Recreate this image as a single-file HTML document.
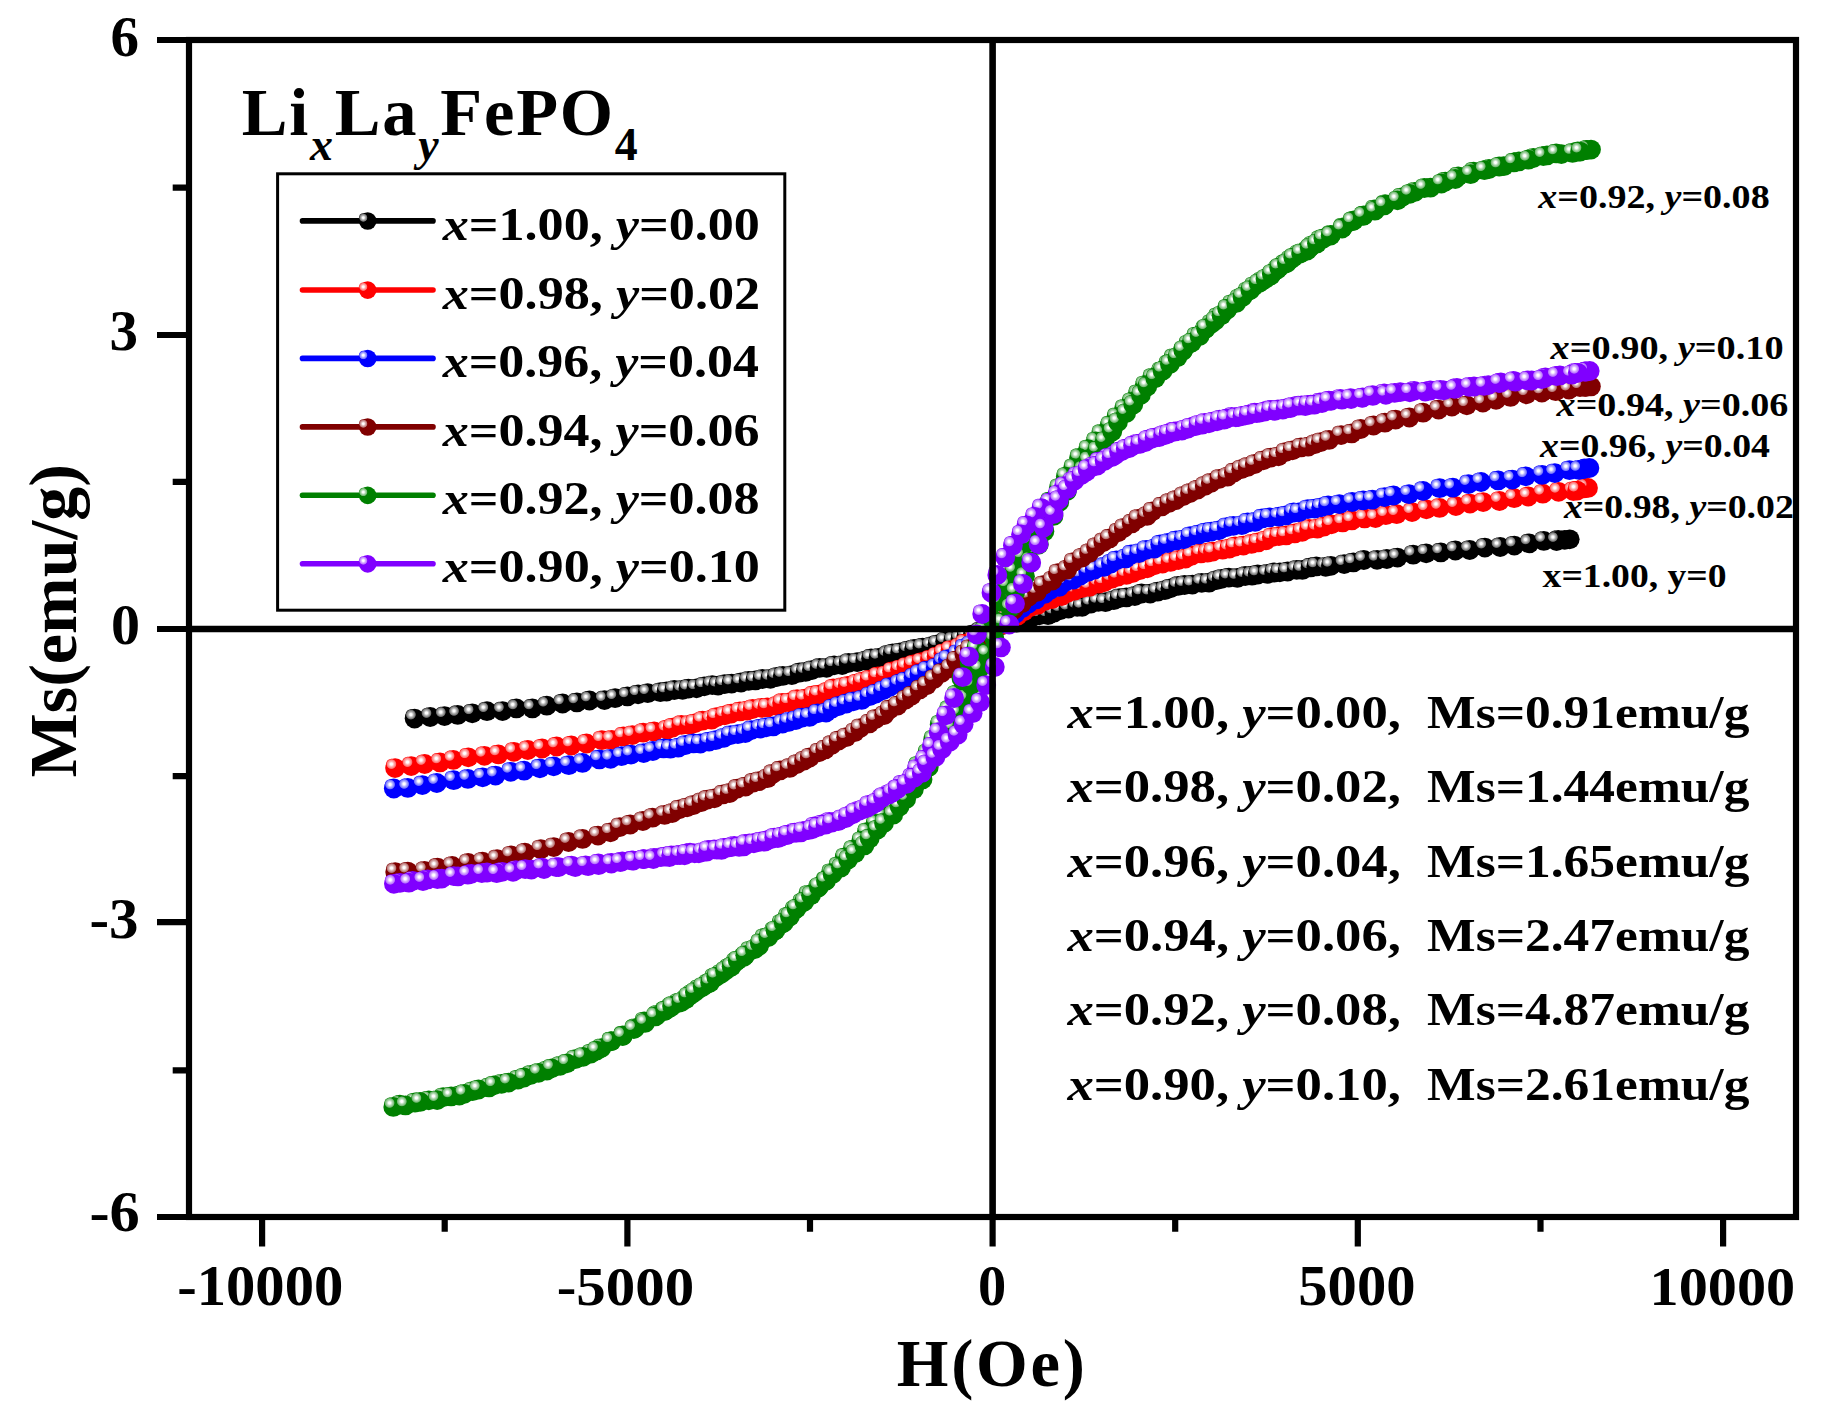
<!DOCTYPE html>
<html lang="en"><head><meta charset="utf-8"><title>M-H curves LixLayFePO4</title>
<style>html,body{margin:0;padding:0;background:#fff;overflow:hidden}svg{display:block}text{font-family:'Liberation Serif','Times New Roman',serif;font-weight:bold;fill:#000}</style></head>
<body><svg width="1821" height="1414" viewBox="0 0 1821 1414">
<defs><radialGradient id="hk"><stop offset="0" stop-color="#fff"/><stop offset="0.2" stop-color="#fff"/><stop offset="0.5" stop-color="#b2b2b2"/><stop offset="0.82" stop-color="#737373"/><stop offset="1" stop-color="#000000"/></radialGradient><g id="mk"><circle r="9.9" fill="#000000"/><circle cx="-3.7" cy="-4.0" r="5.3" fill="url(#hk)"/></g><radialGradient id="hr"><stop offset="0" stop-color="#fff"/><stop offset="0.2" stop-color="#fff"/><stop offset="0.5" stop-color="#ffb2b2"/><stop offset="0.82" stop-color="#ff7373"/><stop offset="1" stop-color="#ff0000"/></radialGradient><g id="mr"><circle r="9.9" fill="#ff0000"/><circle cx="-3.7" cy="-4.0" r="5.3" fill="url(#hr)"/></g><radialGradient id="hb"><stop offset="0" stop-color="#fff"/><stop offset="0.2" stop-color="#fff"/><stop offset="0.5" stop-color="#b2b2ff"/><stop offset="0.82" stop-color="#7373ff"/><stop offset="1" stop-color="#0000ff"/></radialGradient><g id="mb"><circle r="9.9" fill="#0000ff"/><circle cx="-3.7" cy="-4.0" r="5.3" fill="url(#hb)"/></g><radialGradient id="hw"><stop offset="0" stop-color="#fff"/><stop offset="0.2" stop-color="#fff"/><stop offset="0.5" stop-color="#d9b2b2"/><stop offset="0.82" stop-color="#b97373"/><stop offset="1" stop-color="#800000"/></radialGradient><g id="mw"><circle r="9.9" fill="#800000"/><circle cx="-3.7" cy="-4.0" r="5.3" fill="url(#hw)"/></g><radialGradient id="hg"><stop offset="0" stop-color="#fff"/><stop offset="0.2" stop-color="#fff"/><stop offset="0.5" stop-color="#b2d9b2"/><stop offset="0.82" stop-color="#73b973"/><stop offset="1" stop-color="#008000"/></radialGradient><g id="mg"><circle r="9.9" fill="#008000"/><circle cx="-3.7" cy="-4.0" r="5.3" fill="url(#hg)"/></g><radialGradient id="hp"><stop offset="0" stop-color="#fff"/><stop offset="0.2" stop-color="#fff"/><stop offset="0.5" stop-color="#d9b2ff"/><stop offset="0.82" stop-color="#b973ff"/><stop offset="1" stop-color="#8000ff"/></radialGradient><g id="mp"><circle r="9.9" fill="#8000ff"/><circle cx="-3.7" cy="-4.0" r="5.3" fill="url(#hp)"/></g></defs>
<rect width="1821" height="1414" fill="#fff"/>
<g id="legend"><rect x="277.6" y="173.8" width="507.2" height="436.4" fill="#fff" stroke="#000" stroke-width="3"/><line x1="302.5" y1="220.9" x2="433" y2="220.9" stroke="#000000" stroke-width="5.6" stroke-linecap="round"/><circle cx="367.7" cy="221.0" r="8.8" fill="#000000"/><circle cx="363.3" cy="217.7" r="4.4" fill="url(#hk)"/><line x1="302.5" y1="290.0" x2="433" y2="290.0" stroke="#ff0000" stroke-width="5.6" stroke-linecap="round"/><circle cx="367.7" cy="290.1" r="8.8" fill="#ff0000"/><circle cx="363.3" cy="286.8" r="4.4" fill="url(#hr)"/><line x1="302.5" y1="358.4" x2="433" y2="358.4" stroke="#0000ff" stroke-width="5.6" stroke-linecap="round"/><circle cx="367.7" cy="358.5" r="8.8" fill="#0000ff"/><circle cx="363.3" cy="355.2" r="4.4" fill="url(#hb)"/><line x1="302.5" y1="426.9" x2="433" y2="426.9" stroke="#800000" stroke-width="5.6" stroke-linecap="round"/><circle cx="367.7" cy="427.0" r="8.8" fill="#800000"/><circle cx="363.3" cy="423.7" r="4.4" fill="url(#hw)"/><line x1="302.5" y1="495.3" x2="433" y2="495.3" stroke="#008000" stroke-width="5.6" stroke-linecap="round"/><circle cx="367.7" cy="495.4" r="8.8" fill="#008000"/><circle cx="363.3" cy="492.1" r="4.4" fill="url(#hg)"/><line x1="302.5" y1="563.8" x2="433" y2="563.8" stroke="#8000ff" stroke-width="5.6" stroke-linecap="round"/><circle cx="367.7" cy="563.9" r="8.8" fill="#8000ff"/><circle cx="363.3" cy="560.6" r="4.4" fill="url(#hp)"/></g>
<g id="labels"><text transform="translate(110.6 55.8) scale(1.0186 1)" font-size="56.0">6</text>
<text transform="translate(109.6 350.1) scale(1.0175 1)" font-size="56.0">3</text>
<text transform="translate(111.0 644.0) scale(1.0365 1)" font-size="56.0">0</text>
<text transform="translate(89.5 938.0) scale(1.0519 1)" font-size="56.0">-3</text>
<text transform="translate(89.5 1231.2) scale(1.0778 1)" font-size="56.0">-6</text>
<text transform="translate(177.2 1304.6) scale(1.0468 1)" font-size="56.0">-10000</text>
<text transform="translate(556.7 1304.6) scale(1.0525 1)" font-size="56.0">-5000</text>
<text transform="translate(978.1 1304.6) scale(1.0070 1)" font-size="56.0">0</text>
<text transform="translate(1298.3 1304.6) scale(1.0472 1)" font-size="56.0">5000</text>
<text transform="translate(1649.5 1304.6) scale(1.0406 1)" font-size="56.0">10000</text>
<text transform="translate(896.7 1386.0) scale(0.9700 1)" font-size="68.5" letter-spacing="2.87">H(Oe)</text>
<text transform="translate(76.0 776.2) rotate(-90) translate(-1.2 0) scale(0.9926 1)" font-size="68.5">Ms(emu/g)</text>
<text transform="translate(241.7 135.4) scale(1.0000 1)" font-size="68.5" letter-spacing="1.78">Li<tspan font-style="italic" font-size="45.9" dy="24.3">x</tspan><tspan dy="-24.3">La</tspan><tspan font-style="italic" font-size="45.9" dy="24.3">y</tspan><tspan dy="-24.3">FePO</tspan><tspan font-size="45.9" dy="24.8">4</tspan></text>
<text transform="translate(442.7 239.5) scale(1.1191 1)" font-size="46.6"><tspan font-style="italic">x</tspan>=1.00, <tspan font-style="italic">y</tspan>=0.00</text>
<text transform="translate(442.7 308.6) scale(1.1200 1)" font-size="46.6"><tspan font-style="italic">x</tspan>=0.98, <tspan font-style="italic">y</tspan>=0.02</text>
<text transform="translate(442.7 377.0) scale(1.1155 1)" font-size="46.6"><tspan font-style="italic">x</tspan>=0.96, <tspan font-style="italic">y</tspan>=0.04</text>
<text transform="translate(442.7 445.5) scale(1.1175 1)" font-size="46.6"><tspan font-style="italic">x</tspan>=0.94, <tspan font-style="italic">y</tspan>=0.06</text>
<text transform="translate(442.7 513.9) scale(1.1182 1)" font-size="46.6"><tspan font-style="italic">x</tspan>=0.92, <tspan font-style="italic">y</tspan>=0.08</text>
<text transform="translate(442.7 582.4) scale(1.1191 1)" font-size="46.6"><tspan font-style="italic">x</tspan>=0.90, <tspan font-style="italic">y</tspan>=0.10</text>
<text transform="translate(1538.2 207.8) scale(1.1192 1)" font-size="34.0"><tspan font-style="italic">x</tspan>=0.92, <tspan font-style="italic">y</tspan>=0.08</text>
<text transform="translate(1550.5 359.1) scale(1.1274 1)" font-size="34.0"><tspan font-style="italic">x</tspan>=0.90, <tspan font-style="italic">y</tspan>=0.10</text>
<text transform="translate(1556.6 416.4) scale(1.1204 1)" font-size="34.0"><tspan font-style="italic">x</tspan>=0.94, <tspan font-style="italic">y</tspan>=0.06</text>
<text transform="translate(1540.0 457.2) scale(1.1122 1)" font-size="34.0"><tspan font-style="italic">x</tspan>=0.96, <tspan font-style="italic">y</tspan>=0.04</text>
<text transform="translate(1563.9 517.9) scale(1.1123 1)" font-size="34.0"><tspan font-style="italic">x</tspan>=0.98, <tspan font-style="italic">y</tspan>=0.02</text>
<text transform="translate(1542.6 587.4) scale(1.1073 1)" font-size="34.0">x=1.00, y=0</text>
<text transform="translate(1067.4 728.3) scale(1.1302 1)" font-size="46.6"><tspan font-style="italic">x</tspan>=1.00, <tspan font-style="italic">y</tspan>=0.00,</text>
<text transform="translate(1427.1 728.3) scale(1.1045 1)" font-size="46.6">Ms=0.91emu/g</text>
<text transform="translate(1067.4 802.4) scale(1.1302 1)" font-size="46.6"><tspan font-style="italic">x</tspan>=0.98, <tspan font-style="italic">y</tspan>=0.02,</text>
<text transform="translate(1427.1 802.4) scale(1.1045 1)" font-size="46.6">Ms=1.44emu/g</text>
<text transform="translate(1067.4 876.7) scale(1.1302 1)" font-size="46.6"><tspan font-style="italic">x</tspan>=0.96, <tspan font-style="italic">y</tspan>=0.04,</text>
<text transform="translate(1427.1 876.7) scale(1.1045 1)" font-size="46.6">Ms=1.65emu/g</text>
<text transform="translate(1067.4 951.0) scale(1.1302 1)" font-size="46.6"><tspan font-style="italic">x</tspan>=0.94, <tspan font-style="italic">y</tspan>=0.06,</text>
<text transform="translate(1427.1 951.0) scale(1.1045 1)" font-size="46.6">Ms=2.47emu/g</text>
<text transform="translate(1067.4 1025.3) scale(1.1302 1)" font-size="46.6"><tspan font-style="italic">x</tspan>=0.92, <tspan font-style="italic">y</tspan>=0.08,</text>
<text transform="translate(1427.1 1025.3) scale(1.1045 1)" font-size="46.6">Ms=4.87emu/g</text>
<text transform="translate(1067.4 1099.6) scale(1.1302 1)" font-size="46.6"><tspan font-style="italic">x</tspan>=0.90, <tspan font-style="italic">y</tspan>=0.10,</text>
<text transform="translate(1427.1 1099.6) scale(1.1045 1)" font-size="46.6">Ms=2.61emu/g</text></g>
<g id="data"><g><circle cx="1569.7" cy="539.3" r="9.9" fill="#000000"/><circle cx="1564.7" cy="539.8" r="9.9" fill="#000000"/><use href="#mk" x="414.6" y="718.6"/><use href="#mk" x="430.2" y="717.0"/><use href="#mk" x="444.5" y="716.1"/><use href="#mk" x="457.7" y="714.9"/><use href="#mk" x="472.3" y="713.3"/><use href="#mk" x="487.0" y="711.2"/><use href="#mk" x="502.6" y="711.1"/><use href="#mk" x="516.4" y="708.4"/><use href="#mk" x="532.4" y="708.4"/><use href="#mk" x="546.8" y="705.7"/><use href="#mk" x="562.6" y="703.5"/><use href="#mk" x="576.9" y="702.4"/><use href="#mk" x="589.5" y="700.5"/><use href="#mk" x="604.5" y="700.1"/><use href="#mk" x="615.1" y="698.2"/><use href="#mk" x="627.4" y="696.4"/><use href="#mk" x="638.1" y="694.3"/><use href="#mk" x="647.7" y="693.2"/><use href="#mk" x="660.4" y="692.2"/><use href="#mk" x="666.6" y="691.5"/><use href="#mk" x="674.3" y="690.0"/><use href="#mk" x="682.6" y="689.8"/><use href="#mk" x="688.4" y="688.6"/><use href="#mk" x="696.5" y="688.3"/><use href="#mk" x="704.3" y="686.3"/><use href="#mk" x="712.3" y="685.1"/><use href="#mk" x="718.1" y="685.6"/><use href="#mk" x="724.6" y="684.2"/><use href="#mk" x="731.6" y="683.6"/><use href="#mk" x="741.0" y="682.5"/><use href="#mk" x="748.6" y="680.9"/><use href="#mk" x="755.4" y="680.4"/><use href="#mk" x="762.4" y="679.0"/><use href="#mk" x="770.4" y="678.8"/><use href="#mk" x="776.7" y="677.0"/><use href="#mk" x="782.8" y="675.9"/><use href="#mk" x="791.8" y="675.2"/><use href="#mk" x="799.6" y="672.5"/><use href="#mk" x="805.6" y="671.9"/><use href="#mk" x="811.9" y="670.1"/><use href="#mk" x="819.6" y="667.9"/><use href="#mk" x="826.6" y="667.8"/><use href="#mk" x="834.1" y="665.3"/><use href="#mk" x="842.2" y="665.1"/><use href="#mk" x="848.6" y="662.8"/><use href="#mk" x="857.2" y="662.2"/><use href="#mk" x="865.3" y="660.7"/><use href="#mk" x="871.1" y="658.4"/><use href="#mk" x="878.6" y="657.8"/><use href="#mk" x="887.6" y="654.9"/><use href="#mk" x="892.7" y="653.5"/><use href="#mk" x="900.2" y="652.4"/><use href="#mk" x="908.5" y="650.3"/><use href="#mk" x="914.1" y="649.0"/><use href="#mk" x="922.5" y="647.6"/><use href="#mk" x="931.4" y="646.2"/><use href="#mk" x="937.5" y="644.3"/><use href="#mk" x="945.2" y="641.3"/><use href="#mk" x="953.2" y="640.9"/><use href="#mk" x="960.4" y="638.9"/><use href="#mk" x="966.4" y="636.1"/><use href="#mk" x="972.9" y="634.5"/><use href="#mk" x="980.1" y="631.3"/><use href="#mk" x="987.8" y="629.4"/><use href="#mk" x="995.4" y="627.2"/><use href="#mk" x="1001.8" y="625.3"/><use href="#mk" x="1009.4" y="623.7"/><use href="#mk" x="1016.5" y="622.7"/><use href="#mk" x="1025.4" y="619.2"/><use href="#mk" x="1031.7" y="617.6"/><use href="#mk" x="1039.3" y="615.3"/><use href="#mk" x="1048.0" y="615.2"/><use href="#mk" x="1054.2" y="612.5"/><use href="#mk" x="1060.5" y="610.0"/><use href="#mk" x="1068.5" y="608.6"/><use href="#mk" x="1077.2" y="606.8"/><use href="#mk" x="1082.2" y="606.8"/><use href="#mk" x="1090.9" y="603.6"/><use href="#mk" x="1098.3" y="601.8"/><use href="#mk" x="1105.5" y="602.2"/><use href="#mk" x="1113.8" y="600.2"/><use href="#mk" x="1119.4" y="598.1"/><use href="#mk" x="1126.4" y="597.4"/><use href="#mk" x="1134.8" y="596.0"/><use href="#mk" x="1141.5" y="593.5"/><use href="#mk" x="1150.2" y="593.6"/><use href="#mk" x="1157.6" y="591.7"/><use href="#mk" x="1164.8" y="590.2"/><use href="#mk" x="1170.4" y="588.3"/><use href="#mk" x="1178.1" y="585.9"/><use href="#mk" x="1184.5" y="585.0"/><use href="#mk" x="1192.4" y="584.6"/><use href="#mk" x="1201.7" y="582.8"/><use href="#mk" x="1209.0" y="582.7"/><use href="#mk" x="1216.3" y="580.2"/><use href="#mk" x="1221.6" y="578.8"/><use href="#mk" x="1228.8" y="577.6"/><use href="#mk" x="1237.3" y="577.9"/><use href="#mk" x="1245.2" y="576.0"/><use href="#mk" x="1252.0" y="575.7"/><use href="#mk" x="1257.7" y="574.5"/><use href="#mk" x="1267.3" y="573.9"/><use href="#mk" x="1274.2" y="572.5"/><use href="#mk" x="1279.9" y="572.3"/><use href="#mk" x="1287.6" y="571.5"/><use href="#mk" x="1296.7" y="569.8"/><use href="#mk" x="1302.4" y="569.9"/><use href="#mk" x="1310.6" y="567.4"/><use href="#mk" x="1316.3" y="566.4"/><use href="#mk" x="1325.7" y="566.8"/><use href="#mk" x="1330.9" y="565.8"/><use href="#mk" x="1344.2" y="564.1"/><use href="#mk" x="1353.4" y="562.4"/><use href="#mk" x="1363.8" y="560.0"/><use href="#mk" x="1377.1" y="559.8"/><use href="#mk" x="1386.8" y="559.0"/><use href="#mk" x="1397.5" y="557.6"/><use href="#mk" x="1413.2" y="554.7"/><use href="#mk" x="1426.2" y="553.3"/><use href="#mk" x="1440.8" y="552.4"/><use href="#mk" x="1455.4" y="550.5"/><use href="#mk" x="1469.7" y="550.0"/><use href="#mk" x="1484.9" y="547.6"/><use href="#mk" x="1500.2" y="547.0"/><use href="#mk" x="1514.3" y="545.6"/><use href="#mk" x="1529.2" y="543.4"/><use href="#mk" x="1543.8" y="540.9"/><use href="#mk" x="1558.2" y="539.8"/><use href="#mk" x="1556.6" y="541.0"/></g>
<g><circle cx="1588.0" cy="487.9" r="9.9" fill="#ff0000"/><circle cx="1583.0" cy="488.4" r="9.9" fill="#ff0000"/><use href="#mr" x="395.1" y="768.1"/><use href="#mr" x="411.2" y="766.1"/><use href="#mr" x="424.7" y="764.0"/><use href="#mr" x="440.0" y="762.4"/><use href="#mr" x="453.3" y="759.9"/><use href="#mr" x="468.3" y="757.3"/><use href="#mr" x="484.4" y="755.8"/><use href="#mr" x="498.4" y="754.4"/><use href="#mr" x="514.0" y="751.8"/><use href="#mr" x="527.8" y="750.0"/><use href="#mr" x="542.1" y="748.5"/><use href="#mr" x="556.6" y="746.5"/><use href="#mr" x="571.3" y="745.5"/><use href="#mr" x="586.5" y="743.5"/><use href="#mr" x="601.8" y="740.2"/><use href="#mr" x="611.7" y="739.9"/><use href="#mr" x="623.4" y="736.4"/><use href="#mr" x="632.4" y="735.1"/><use href="#mr" x="643.2" y="732.7"/><use href="#mr" x="654.1" y="731.4"/><use href="#mr" x="667.1" y="729.6"/><use href="#mr" x="672.6" y="727.6"/><use href="#mr" x="681.3" y="724.9"/><use href="#mr" x="689.3" y="724.9"/><use href="#mr" x="694.7" y="723.3"/><use href="#mr" x="702.5" y="720.7"/><use href="#mr" x="711.5" y="719.7"/><use href="#mr" x="716.5" y="717.2"/><use href="#mr" x="724.8" y="715.3"/><use href="#mr" x="731.2" y="713.6"/><use href="#mr" x="740.0" y="711.4"/><use href="#mr" x="746.8" y="710.7"/><use href="#mr" x="752.6" y="709.0"/><use href="#mr" x="761.6" y="707.9"/><use href="#mr" x="767.3" y="707.4"/><use href="#mr" x="776.7" y="705.9"/><use href="#mr" x="782.1" y="702.9"/><use href="#mr" x="789.2" y="702.3"/><use href="#mr" x="797.1" y="699.1"/><use href="#mr" x="804.9" y="698.7"/><use href="#mr" x="813.3" y="695.4"/><use href="#mr" x="818.7" y="694.6"/><use href="#mr" x="827.2" y="691.9"/><use href="#mr" x="833.2" y="688.5"/><use href="#mr" x="842.1" y="687.1"/><use href="#mr" x="847.7" y="686.0"/><use href="#mr" x="856.6" y="683.6"/><use href="#mr" x="862.4" y="681.7"/><use href="#mr" x="869.6" y="679.6"/><use href="#mr" x="878.0" y="676.4"/><use href="#mr" x="885.6" y="675.3"/><use href="#mr" x="892.1" y="671.5"/><use href="#mr" x="900.1" y="669.3"/><use href="#mr" x="906.3" y="666.8"/><use href="#mr" x="913.4" y="664.5"/><use href="#mr" x="921.4" y="662.2"/><use href="#mr" x="930.0" y="659.6"/><use href="#mr" x="936.6" y="656.6"/><use href="#mr" x="943.4" y="653.3"/><use href="#mr" x="950.5" y="650.1"/><use href="#mr" x="959.1" y="647.6"/><use href="#mr" x="964.9" y="643.6"/><use href="#mr" x="974.3" y="638.9"/><use href="#mr" x="981.3" y="635.5"/><use href="#mr" x="987.7" y="632.3"/><use href="#mr" x="994.7" y="627.7"/><use href="#mr" x="1002.8" y="624.7"/><use href="#mr" x="1009.2" y="620.3"/><use href="#mr" x="1017.5" y="615.8"/><use href="#mr" x="1024.0" y="611.3"/><use href="#mr" x="1030.3" y="607.1"/><use href="#mr" x="1037.6" y="604.9"/><use href="#mr" x="1045.5" y="600.6"/><use href="#mr" x="1052.3" y="599.1"/><use href="#mr" x="1061.8" y="596.1"/><use href="#mr" x="1067.5" y="592.7"/><use href="#mr" x="1074.8" y="590.6"/><use href="#mr" x="1081.7" y="588.2"/><use href="#mr" x="1089.3" y="586.9"/><use href="#mr" x="1098.6" y="583.7"/><use href="#mr" x="1103.9" y="582.3"/><use href="#mr" x="1111.4" y="578.9"/><use href="#mr" x="1117.8" y="576.7"/><use href="#mr" x="1126.4" y="574.9"/><use href="#mr" x="1133.0" y="572.8"/><use href="#mr" x="1139.7" y="570.2"/><use href="#mr" x="1147.3" y="568.3"/><use href="#mr" x="1154.4" y="565.3"/><use href="#mr" x="1162.5" y="563.5"/><use href="#mr" x="1170.6" y="561.9"/><use href="#mr" x="1178.3" y="560.0"/><use href="#mr" x="1185.5" y="558.5"/><use href="#mr" x="1191.9" y="555.5"/><use href="#mr" x="1200.9" y="553.4"/><use href="#mr" x="1207.5" y="552.7"/><use href="#mr" x="1212.9" y="551.6"/><use href="#mr" x="1222.6" y="549.7"/><use href="#mr" x="1229.4" y="548.6"/><use href="#mr" x="1235.1" y="546.5"/><use href="#mr" x="1243.4" y="545.6"/><use href="#mr" x="1251.5" y="543.9"/><use href="#mr" x="1258.2" y="542.4"/><use href="#mr" x="1265.8" y="540.3"/><use href="#mr" x="1271.8" y="537.2"/><use href="#mr" x="1278.9" y="536.2"/><use href="#mr" x="1286.1" y="535.4"/><use href="#mr" x="1294.7" y="533.4"/><use href="#mr" x="1302.2" y="531.8"/><use href="#mr" x="1309.1" y="528.9"/><use href="#mr" x="1317.3" y="528.7"/><use href="#mr" x="1323.7" y="526.7"/><use href="#mr" x="1331.5" y="524.3"/><use href="#mr" x="1342.7" y="522.4"/><use href="#mr" x="1351.8" y="520.4"/><use href="#mr" x="1364.6" y="518.4"/><use href="#mr" x="1375.5" y="518.1"/><use href="#mr" x="1385.8" y="515.2"/><use href="#mr" x="1396.7" y="514.2"/><use href="#mr" x="1412.1" y="512.1"/><use href="#mr" x="1426.4" y="509.3"/><use href="#mr" x="1439.6" y="507.9"/><use href="#mr" x="1455.9" y="506.1"/><use href="#mr" x="1470.0" y="503.6"/><use href="#mr" x="1483.2" y="502.1"/><use href="#mr" x="1499.5" y="501.0"/><use href="#mr" x="1514.2" y="498.2"/><use href="#mr" x="1528.3" y="496.5"/><use href="#mr" x="1542.8" y="493.7"/><use href="#mr" x="1558.6" y="491.8"/><use href="#mr" x="1573.4" y="491.1"/><use href="#mr" x="1585.4" y="488.0"/><use href="#mr" x="1577.2" y="490.6"/></g>
<g><circle cx="1589.4" cy="468.0" r="9.9" fill="#0000ff"/><circle cx="1584.4" cy="468.5" r="9.9" fill="#0000ff"/><use href="#mb" x="393.8" y="788.5"/><use href="#mb" x="407.8" y="787.9"/><use href="#mb" x="422.4" y="785.1"/><use href="#mb" x="436.8" y="783.0"/><use href="#mb" x="453.7" y="780.2"/><use href="#mb" x="467.9" y="778.9"/><use href="#mb" x="482.7" y="777.3"/><use href="#mb" x="495.5" y="775.6"/><use href="#mb" x="510.8" y="771.8"/><use href="#mb" x="524.1" y="770.7"/><use href="#mb" x="539.9" y="768.3"/><use href="#mb" x="553.7" y="766.3"/><use href="#mb" x="568.8" y="765.2"/><use href="#mb" x="582.5" y="762.9"/><use href="#mb" x="599.4" y="759.4"/><use href="#mb" x="610.6" y="758.8"/><use href="#mb" x="621.5" y="756.2"/><use href="#mb" x="631.0" y="754.6"/><use href="#mb" x="643.7" y="753.1"/><use href="#mb" x="652.9" y="751.0"/><use href="#mb" x="663.6" y="748.4"/><use href="#mb" x="670.4" y="748.7"/><use href="#mb" x="678.2" y="747.7"/><use href="#mb" x="685.5" y="745.0"/><use href="#mb" x="693.5" y="743.4"/><use href="#mb" x="700.4" y="743.5"/><use href="#mb" x="709.1" y="741.6"/><use href="#mb" x="715.7" y="740.2"/><use href="#mb" x="723.9" y="737.8"/><use href="#mb" x="730.6" y="735.1"/><use href="#mb" x="737.9" y="734.2"/><use href="#mb" x="745.3" y="733.0"/><use href="#mb" x="751.3" y="730.1"/><use href="#mb" x="760.4" y="728.6"/><use href="#mb" x="766.4" y="727.3"/><use href="#mb" x="773.2" y="726.4"/><use href="#mb" x="782.5" y="723.6"/><use href="#mb" x="788.9" y="721.8"/><use href="#mb" x="795.9" y="720.1"/><use href="#mb" x="802.1" y="717.6"/><use href="#mb" x="809.5" y="716.9"/><use href="#mb" x="817.6" y="713.3"/><use href="#mb" x="826.1" y="712.6"/><use href="#mb" x="832.1" y="708.5"/><use href="#mb" x="838.7" y="706.0"/><use href="#mb" x="846.4" y="703.5"/><use href="#mb" x="853.4" y="701.3"/><use href="#mb" x="861.7" y="699.9"/><use href="#mb" x="869.5" y="696.2"/><use href="#mb" x="875.8" y="693.6"/><use href="#mb" x="883.0" y="690.3"/><use href="#mb" x="889.5" y="687.1"/><use href="#mb" x="899.3" y="683.7"/><use href="#mb" x="905.3" y="681.4"/><use href="#mb" x="913.6" y="677.3"/><use href="#mb" x="919.3" y="673.9"/><use href="#mb" x="926.9" y="670.6"/><use href="#mb" x="935.8" y="667.7"/><use href="#mb" x="942.9" y="662.0"/><use href="#mb" x="947.8" y="659.2"/><use href="#mb" x="957.5" y="654.1"/><use href="#mb" x="964.0" y="648.2"/><use href="#mb" x="970.7" y="645.0"/><use href="#mb" x="979.3" y="639.7"/><use href="#mb" x="987.0" y="633.3"/><use href="#mb" x="991.9" y="628.1"/><use href="#mb" x="1000.3" y="624.0"/><use href="#mb" x="1008.8" y="618.9"/><use href="#mb" x="1015.3" y="613.8"/><use href="#mb" x="1022.1" y="608.2"/><use href="#mb" x="1028.2" y="603.7"/><use href="#mb" x="1036.0" y="599.4"/><use href="#mb" x="1044.5" y="593.9"/><use href="#mb" x="1050.4" y="589.8"/><use href="#mb" x="1059.1" y="586.9"/><use href="#mb" x="1064.9" y="582.1"/><use href="#mb" x="1073.4" y="579.6"/><use href="#mb" x="1080.3" y="575.5"/><use href="#mb" x="1088.2" y="571.8"/><use href="#mb" x="1094.7" y="569.6"/><use href="#mb" x="1103.8" y="566.9"/><use href="#mb" x="1110.9" y="563.6"/><use href="#mb" x="1116.4" y="560.3"/><use href="#mb" x="1125.7" y="558.4"/><use href="#mb" x="1131.2" y="554.4"/><use href="#mb" x="1139.1" y="553.1"/><use href="#mb" x="1146.1" y="549.8"/><use href="#mb" x="1154.1" y="548.7"/><use href="#mb" x="1160.2" y="544.5"/><use href="#mb" x="1167.8" y="543.0"/><use href="#mb" x="1176.1" y="540.4"/><use href="#mb" x="1183.7" y="539.3"/><use href="#mb" x="1190.2" y="536.2"/><use href="#mb" x="1198.8" y="534.4"/><use href="#mb" x="1205.7" y="532.4"/><use href="#mb" x="1211.3" y="531.6"/><use href="#mb" x="1218.8" y="530.3"/><use href="#mb" x="1226.7" y="527.1"/><use href="#mb" x="1233.3" y="525.8"/><use href="#mb" x="1241.8" y="525.2"/><use href="#mb" x="1247.7" y="522.4"/><use href="#mb" x="1255.1" y="521.9"/><use href="#mb" x="1262.2" y="518.4"/><use href="#mb" x="1269.3" y="517.4"/><use href="#mb" x="1279.0" y="516.7"/><use href="#mb" x="1285.8" y="515.4"/><use href="#mb" x="1293.7" y="512.5"/><use href="#mb" x="1298.9" y="512.3"/><use href="#mb" x="1307.8" y="509.2"/><use href="#mb" x="1314.8" y="508.6"/><use href="#mb" x="1321.3" y="507.3"/><use href="#mb" x="1328.1" y="505.4"/><use href="#mb" x="1339.3" y="504.2"/><use href="#mb" x="1352.2" y="502.0"/><use href="#mb" x="1363.2" y="500.3"/><use href="#mb" x="1372.4" y="499.7"/><use href="#mb" x="1384.7" y="497.1"/><use href="#mb" x="1393.5" y="495.5"/><use href="#mb" x="1409.0" y="494.2"/><use href="#mb" x="1423.1" y="490.9"/><use href="#mb" x="1439.7" y="488.2"/><use href="#mb" x="1452.9" y="487.7"/><use href="#mb" x="1468.5" y="484.1"/><use href="#mb" x="1481.1" y="482.0"/><use href="#mb" x="1498.2" y="480.4"/><use href="#mb" x="1512.3" y="479.6"/><use href="#mb" x="1525.8" y="476.3"/><use href="#mb" x="1542.1" y="474.9"/><use href="#mb" x="1554.8" y="473.1"/><use href="#mb" x="1569.5" y="470.2"/><use href="#mb" x="1583.3" y="469.2"/><use href="#mb" x="1578.9" y="469.9"/></g>
<g><circle cx="1590.9" cy="386.4" r="9.9" fill="#800000"/><circle cx="1585.9" cy="386.9" r="9.9" fill="#800000"/><use href="#mw" x="395.2" y="872.1"/><use href="#mw" x="407.8" y="871.6"/><use href="#mw" x="424.5" y="870.9"/><use href="#mw" x="437.5" y="867.6"/><use href="#mw" x="452.2" y="866.0"/><use href="#mw" x="468.2" y="863.0"/><use href="#mw" x="482.5" y="861.7"/><use href="#mw" x="497.1" y="859.1"/><use href="#mw" x="511.1" y="855.5"/><use href="#mw" x="524.9" y="852.7"/><use href="#mw" x="540.8" y="849.2"/><use href="#mw" x="553.8" y="847.1"/><use href="#mw" x="568.6" y="842.0"/><use href="#mw" x="582.6" y="838.9"/><use href="#mw" x="598.0" y="835.6"/><use href="#mw" x="610.5" y="832.3"/><use href="#mw" x="619.8" y="827.1"/><use href="#mw" x="630.2" y="824.5"/><use href="#mw" x="642.9" y="821.0"/><use href="#mw" x="652.5" y="817.7"/><use href="#mw" x="664.6" y="814.9"/><use href="#mw" x="672.2" y="813.0"/><use href="#mw" x="679.3" y="809.3"/><use href="#mw" x="687.1" y="807.3"/><use href="#mw" x="693.6" y="805.0"/><use href="#mw" x="701.4" y="802.1"/><use href="#mw" x="707.4" y="799.6"/><use href="#mw" x="714.4" y="798.3"/><use href="#mw" x="722.9" y="794.4"/><use href="#mw" x="729.7" y="793.0"/><use href="#mw" x="737.3" y="788.6"/><use href="#mw" x="745.5" y="786.6"/><use href="#mw" x="753.3" y="782.6"/><use href="#mw" x="759.1" y="781.1"/><use href="#mw" x="767.5" y="778.2"/><use href="#mw" x="772.5" y="773.9"/><use href="#mw" x="780.1" y="770.4"/><use href="#mw" x="789.7" y="767.9"/><use href="#mw" x="796.9" y="764.0"/><use href="#mw" x="804.1" y="760.6"/><use href="#mw" x="809.7" y="757.5"/><use href="#mw" x="818.9" y="752.3"/><use href="#mw" x="825.2" y="749.4"/><use href="#mw" x="831.5" y="744.9"/><use href="#mw" x="838.6" y="740.5"/><use href="#mw" x="846.2" y="737.2"/><use href="#mw" x="854.6" y="732.2"/><use href="#mw" x="860.1" y="728.1"/><use href="#mw" x="869.3" y="723.4"/><use href="#mw" x="875.6" y="719.0"/><use href="#mw" x="884.2" y="715.1"/><use href="#mw" x="889.5" y="709.4"/><use href="#mw" x="897.7" y="705.5"/><use href="#mw" x="905.7" y="699.5"/><use href="#mw" x="911.7" y="695.6"/><use href="#mw" x="919.7" y="689.4"/><use href="#mw" x="926.7" y="685.3"/><use href="#mw" x="934.0" y="679.0"/><use href="#mw" x="941.4" y="673.0"/><use href="#mw" x="950.2" y="668.3"/><use href="#mw" x="956.1" y="660.5"/><use href="#mw" x="964.4" y="654.1"/><use href="#mw" x="969.7" y="649.0"/><use href="#mw" x="978.1" y="642.2"/><use href="#mw" x="985.4" y="635.8"/><use href="#mw" x="992.9" y="628.0"/><use href="#mw" x="998.9" y="622.4"/><use href="#mw" x="1008.0" y="616.8"/><use href="#mw" x="1013.7" y="609.8"/><use href="#mw" x="1021.8" y="603.3"/><use href="#mw" x="1028.5" y="596.7"/><use href="#mw" x="1036.9" y="591.9"/><use href="#mw" x="1043.0" y="585.2"/><use href="#mw" x="1052.3" y="580.5"/><use href="#mw" x="1057.9" y="573.2"/><use href="#mw" x="1067.3" y="569.5"/><use href="#mw" x="1073.3" y="562.2"/><use href="#mw" x="1081.8" y="557.7"/><use href="#mw" x="1089.1" y="553.0"/><use href="#mw" x="1096.1" y="547.0"/><use href="#mw" x="1103.3" y="542.1"/><use href="#mw" x="1109.6" y="538.4"/><use href="#mw" x="1118.1" y="532.3"/><use href="#mw" x="1123.7" y="528.0"/><use href="#mw" x="1131.8" y="523.4"/><use href="#mw" x="1138.0" y="518.8"/><use href="#mw" x="1147.0" y="515.9"/><use href="#mw" x="1152.4" y="511.3"/><use href="#mw" x="1161.7" y="506.4"/><use href="#mw" x="1169.2" y="502.8"/><use href="#mw" x="1175.9" y="500.0"/><use href="#mw" x="1183.3" y="496.0"/><use href="#mw" x="1190.0" y="493.0"/><use href="#mw" x="1197.3" y="489.7"/><use href="#mw" x="1204.7" y="485.9"/><use href="#mw" x="1210.8" y="482.9"/><use href="#mw" x="1219.4" y="478.8"/><use href="#mw" x="1227.5" y="476.7"/><use href="#mw" x="1233.9" y="472.4"/><use href="#mw" x="1241.3" y="469.2"/><use href="#mw" x="1247.6" y="466.9"/><use href="#mw" x="1254.8" y="464.0"/><use href="#mw" x="1263.3" y="460.3"/><use href="#mw" x="1270.9" y="457.6"/><use href="#mw" x="1278.5" y="456.3"/><use href="#mw" x="1285.2" y="452.2"/><use href="#mw" x="1292.5" y="450.3"/><use href="#mw" x="1301.0" y="447.4"/><use href="#mw" x="1308.1" y="446.7"/><use href="#mw" x="1315.0" y="444.0"/><use href="#mw" x="1320.8" y="442.1"/><use href="#mw" x="1329.0" y="439.9"/><use href="#mw" x="1341.1" y="435.1"/><use href="#mw" x="1351.7" y="433.4"/><use href="#mw" x="1360.7" y="429.0"/><use href="#mw" x="1373.5" y="425.5"/><use href="#mw" x="1384.9" y="422.7"/><use href="#mw" x="1395.6" y="419.6"/><use href="#mw" x="1409.4" y="417.5"/><use href="#mw" x="1423.1" y="412.7"/><use href="#mw" x="1438.6" y="409.6"/><use href="#mw" x="1451.9" y="406.5"/><use href="#mw" x="1466.8" y="405.3"/><use href="#mw" x="1482.9" y="402.6"/><use href="#mw" x="1496.1" y="399.8"/><use href="#mw" x="1510.5" y="396.9"/><use href="#mw" x="1526.6" y="394.3"/><use href="#mw" x="1541.9" y="392.5"/><use href="#mw" x="1555.7" y="391.2"/><use href="#mw" x="1569.0" y="389.6"/><use href="#mw" x="1585.0" y="386.8"/><use href="#mw" x="1580.0" y="387.2"/></g>
<g><circle cx="1591.0" cy="149.6" r="9.9" fill="#008000"/><circle cx="1586.0" cy="150.1" r="9.9" fill="#008000"/><use href="#mg" x="1577.8" y="151.5"/><use href="#mg" x="1561.4" y="154.1"/><use href="#mg" x="1547.0" y="155.4"/><use href="#mg" x="1533.3" y="158.0"/><use href="#mg" x="1518.9" y="161.4"/><use href="#mg" x="1503.8" y="166.2"/><use href="#mg" x="1489.0" y="169.0"/><use href="#mg" x="1473.6" y="171.6"/><use href="#mg" x="1458.2" y="176.3"/><use href="#mg" x="1445.3" y="181.6"/><use href="#mg" x="1430.4" y="187.7"/><use href="#mg" x="1414.7" y="191.9"/><use href="#mg" x="1401.5" y="197.3"/><use href="#mg" x="1385.1" y="204.2"/><use href="#mg" x="1374.4" y="209.4"/><use href="#mg" x="1363.8" y="215.4"/><use href="#mg" x="1353.9" y="220.5"/><use href="#mg" x="1343.0" y="227.3"/><use href="#mg" x="1330.7" y="234.8"/><use href="#mg" x="1320.0" y="239.9"/><use href="#mg" x="1312.3" y="245.5"/><use href="#mg" x="1307.2" y="250.5"/><use href="#mg" x="1298.6" y="254.2"/><use href="#mg" x="1290.2" y="259.7"/><use href="#mg" x="1284.4" y="264.1"/><use href="#mg" x="1277.3" y="269.4"/><use href="#mg" x="1270.8" y="275.4"/><use href="#mg" x="1261.6" y="281.3"/><use href="#mg" x="1253.7" y="286.2"/><use href="#mg" x="1247.4" y="291.5"/><use href="#mg" x="1239.1" y="298.5"/><use href="#mg" x="1231.7" y="304.2"/><use href="#mg" x="1227.0" y="309.7"/><use href="#mg" x="1217.6" y="317.1"/><use href="#mg" x="1211.2" y="323.8"/><use href="#mg" x="1204.7" y="329.5"/><use href="#mg" x="1196.0" y="336.5"/><use href="#mg" x="1188.0" y="344.5"/><use href="#mg" x="1182.7" y="351.0"/><use href="#mg" x="1173.3" y="358.1"/><use href="#mg" x="1168.0" y="364.4"/><use href="#mg" x="1160.7" y="371.4"/><use href="#mg" x="1152.0" y="377.9"/><use href="#mg" x="1144.7" y="385.2"/><use href="#mg" x="1137.7" y="394.1"/><use href="#mg" x="1131.4" y="402.0"/><use href="#mg" x="1124.1" y="408.8"/><use href="#mg" x="1116.4" y="417.1"/><use href="#mg" x="1109.7" y="425.4"/><use href="#mg" x="1100.9" y="433.9"/><use href="#mg" x="1095.6" y="441.3"/><use href="#mg" x="1088.0" y="449.2"/><use href="#mg" x="1079.0" y="457.9"/><use href="#mg" x="1073.1" y="468.1"/><use href="#mg" x="1065.8" y="476.7"/><use href="#mg" x="1058.8" y="488.0"/><use href="#mg" x="1049.7" y="501.5"/><use href="#mg" x="1043.5" y="514.2"/><use href="#mg" x="1036.3" y="528.5"/><use href="#mg" x="1028.5" y="542.0"/><use href="#mg" x="1021.8" y="556.3"/><use href="#mg" x="1013.8" y="570.9"/><use href="#mg" x="1006.8" y="585.3"/><use href="#mg" x="998.5" y="601.4"/><use href="#mg" x="990.8" y="617.3"/><use href="#mg" x="983.7" y="631.1"/><use href="#mg" x="976.3" y="648.7"/><use href="#mg" x="969.7" y="663.0"/><use href="#mg" x="961.5" y="678.4"/><use href="#mg" x="956.0" y="694.7"/><use href="#mg" x="948.7" y="709.9"/><use href="#mg" x="939.7" y="724.5"/><use href="#mg" x="933.2" y="739.5"/><use href="#mg" x="927.2" y="753.3"/><use href="#mg" x="917.8" y="765.8"/><use href="#mg" x="912.8" y="777.2"/><use href="#mg" x="903.3" y="786.0"/><use href="#mg" x="896.0" y="795.4"/><use href="#mg" x="890.7" y="806.5"/><use href="#mg" x="882.8" y="815.9"/><use href="#mg" x="875.5" y="823.8"/><use href="#mg" x="866.7" y="832.2"/><use href="#mg" x="861.2" y="841.0"/><use href="#mg" x="852.7" y="849.7"/><use href="#mg" x="844.6" y="857.5"/><use href="#mg" x="838.0" y="866.3"/><use href="#mg" x="830.9" y="873.1"/><use href="#mg" x="825.3" y="880.8"/><use href="#mg" x="817.7" y="888.1"/><use href="#mg" x="808.1" y="894.8"/><use href="#mg" x="801.9" y="902.8"/><use href="#mg" x="794.4" y="910.1"/><use href="#mg" x="787.6" y="916.7"/><use href="#mg" x="781.2" y="923.9"/><use href="#mg" x="773.8" y="931.2"/><use href="#mg" x="764.2" y="938.0"/><use href="#mg" x="759.0" y="945.8"/><use href="#mg" x="749.6" y="950.8"/><use href="#mg" x="743.6" y="957.1"/><use href="#mg" x="735.5" y="962.0"/><use href="#mg" x="728.6" y="968.1"/><use href="#mg" x="721.1" y="973.8"/><use href="#mg" x="713.8" y="977.7"/><use href="#mg" x="707.7" y="983.6"/><use href="#mg" x="698.7" y="989.1"/><use href="#mg" x="691.3" y="994.4"/><use href="#mg" x="685.8" y="999.2"/><use href="#mg" x="678.3" y="1002.9"/><use href="#mg" x="670.3" y="1007.4"/><use href="#mg" x="664.4" y="1010.9"/><use href="#mg" x="657.1" y="1014.9"/><use href="#mg" x="644.2" y="1021.5"/><use href="#mg" x="635.2" y="1028.1"/><use href="#mg" x="622.8" y="1035.4"/><use href="#mg" x="611.4" y="1041.2"/><use href="#mg" x="601.3" y="1048.1"/><use href="#mg" x="590.9" y="1053.6"/><use href="#mg" x="575.2" y="1059.2"/><use href="#mg" x="560.1" y="1065.8"/><use href="#mg" x="546.9" y="1070.6"/><use href="#mg" x="530.9" y="1074.8"/><use href="#mg" x="518.0" y="1079.6"/><use href="#mg" x="501.5" y="1083.8"/><use href="#mg" x="489.0" y="1087.4"/><use href="#mg" x="472.5" y="1091.2"/><use href="#mg" x="459.3" y="1095.5"/><use href="#mg" x="443.2" y="1097.2"/><use href="#mg" x="428.8" y="1100.3"/><use href="#mg" x="415.0" y="1102.5"/><use href="#mg" x="399.8" y="1104.7"/><use href="#mg" x="393.3" y="1106.9"/><use href="#mg" x="405.5" y="1105.4"/><use href="#mg" x="420.1" y="1101.9"/><use href="#mg" x="437.2" y="1100.1"/><use href="#mg" x="451.1" y="1096.4"/><use href="#mg" x="464.2" y="1093.8"/><use href="#mg" x="478.5" y="1089.5"/><use href="#mg" x="493.9" y="1085.3"/><use href="#mg" x="508.6" y="1082.6"/><use href="#mg" x="524.0" y="1077.5"/><use href="#mg" x="538.5" y="1072.8"/><use href="#mg" x="551.7" y="1068.3"/><use href="#mg" x="567.0" y="1063.3"/><use href="#mg" x="583.1" y="1056.8"/><use href="#mg" x="596.7" y="1050.6"/><use href="#mg" x="610.9" y="1041.3"/><use href="#mg" x="622.7" y="1036.0"/><use href="#mg" x="633.8" y="1029.1"/><use href="#mg" x="645.0" y="1022.9"/><use href="#mg" x="655.4" y="1016.4"/><use href="#mg" x="665.4" y="1010.5"/><use href="#mg" x="672.1" y="1005.9"/><use href="#mg" x="681.3" y="1002.0"/><use href="#mg" x="688.2" y="996.5"/><use href="#mg" x="694.9" y="992.0"/><use href="#mg" x="702.8" y="986.8"/><use href="#mg" x="710.2" y="982.6"/><use href="#mg" x="716.2" y="976.7"/><use href="#mg" x="725.1" y="970.8"/><use href="#mg" x="731.6" y="966.6"/><use href="#mg" x="737.7" y="960.3"/><use href="#mg" x="745.3" y="955.2"/><use href="#mg" x="754.8" y="949.0"/><use href="#mg" x="759.8" y="943.1"/><use href="#mg" x="768.3" y="937.1"/><use href="#mg" x="775.5" y="930.2"/><use href="#mg" x="783.7" y="922.8"/><use href="#mg" x="789.9" y="916.4"/><use href="#mg" x="796.6" y="908.5"/><use href="#mg" x="804.4" y="901.6"/><use href="#mg" x="811.0" y="895.2"/><use href="#mg" x="818.9" y="886.7"/><use href="#mg" x="826.0" y="880.7"/><use href="#mg" x="832.6" y="874.0"/><use href="#mg" x="841.0" y="867.5"/><use href="#mg" x="848.1" y="859.5"/><use href="#mg" x="855.1" y="853.2"/><use href="#mg" x="864.4" y="845.4"/><use href="#mg" x="869.7" y="838.4"/><use href="#mg" x="877.5" y="829.6"/><use href="#mg" x="884.0" y="822.9"/><use href="#mg" x="893.2" y="814.7"/><use href="#mg" x="899.6" y="806.4"/><use href="#mg" x="906.2" y="798.9"/><use href="#mg" x="913.9" y="789.2"/><use href="#mg" x="922.5" y="779.4"/><use href="#mg" x="928.8" y="766.9"/><use href="#mg" x="936.3" y="754.0"/><use href="#mg" x="944.4" y="741.2"/><use href="#mg" x="951.8" y="727.3"/><use href="#mg" x="957.8" y="713.4"/><use href="#mg" x="965.2" y="698.9"/><use href="#mg" x="971.3" y="685.0"/><use href="#mg" x="979.4" y="668.7"/><use href="#mg" x="986.8" y="653.8"/><use href="#mg" x="994.4" y="638.7"/><use href="#mg" x="1002.4" y="622.5"/><use href="#mg" x="1010.5" y="607.7"/><use href="#mg" x="1015.3" y="591.8"/><use href="#mg" x="1025.0" y="576.2"/><use href="#mg" x="1030.2" y="561.3"/><use href="#mg" x="1038.8" y="544.6"/><use href="#mg" x="1044.4" y="531.6"/><use href="#mg" x="1053.5" y="515.9"/><use href="#mg" x="1059.3" y="502.1"/><use href="#mg" x="1066.9" y="491.1"/><use href="#mg" x="1074.6" y="478.9"/><use href="#mg" x="1083.4" y="470.1"/><use href="#mg" x="1088.7" y="460.6"/><use href="#mg" x="1097.2" y="450.6"/><use href="#mg" x="1104.7" y="441.1"/><use href="#mg" x="1112.3" y="431.6"/><use href="#mg" x="1118.0" y="422.0"/><use href="#mg" x="1126.2" y="413.1"/><use href="#mg" x="1133.3" y="404.6"/><use href="#mg" x="1140.9" y="394.8"/><use href="#mg" x="1147.3" y="386.4"/><use href="#mg" x="1155.3" y="378.3"/><use href="#mg" x="1162.6" y="370.7"/><use href="#mg" x="1169.9" y="363.9"/><use href="#mg" x="1177.4" y="357.3"/><use href="#mg" x="1183.2" y="350.0"/><use href="#mg" x="1191.8" y="342.4"/><use href="#mg" x="1199.6" y="336.0"/><use href="#mg" x="1206.1" y="328.2"/><use href="#mg" x="1215.1" y="320.7"/><use href="#mg" x="1221.5" y="315.2"/><use href="#mg" x="1227.1" y="308.6"/><use href="#mg" x="1236.2" y="302.9"/><use href="#mg" x="1242.5" y="296.9"/><use href="#mg" x="1250.4" y="290.0"/><use href="#mg" x="1258.7" y="283.2"/><use href="#mg" x="1265.5" y="278.7"/><use href="#mg" x="1271.8" y="273.7"/><use href="#mg" x="1279.2" y="267.6"/><use href="#mg" x="1286.9" y="263.1"/><use href="#mg" x="1293.3" y="257.6"/><use href="#mg" x="1301.2" y="253.1"/><use href="#mg" x="1309.7" y="247.8"/><use href="#mg" x="1317.0" y="243.4"/><use href="#mg" x="1323.4" y="238.5"/><use href="#mg" x="1330.7" y="235.5"/><use href="#mg" x="1342.1" y="228.6"/><use href="#mg" x="1352.1" y="221.3"/><use href="#mg" x="1363.0" y="215.9"/><use href="#mg" x="1374.9" y="210.7"/><use href="#mg" x="1384.2" y="205.4"/><use href="#mg" x="1397.5" y="200.3"/><use href="#mg" x="1409.8" y="193.8"/><use href="#mg" x="1424.3" y="188.0"/><use href="#mg" x="1441.4" y="183.5"/><use href="#mg" x="1455.3" y="179.0"/><use href="#mg" x="1470.6" y="174.2"/><use href="#mg" x="1484.4" y="170.2"/><use href="#mg" x="1499.2" y="166.5"/><use href="#mg" x="1513.8" y="162.4"/><use href="#mg" x="1528.4" y="159.7"/><use href="#mg" x="1543.3" y="156.1"/><use href="#mg" x="1556.2" y="153.4"/><use href="#mg" x="1572.5" y="152.9"/><use href="#mg" x="1586.8" y="149.9"/><use href="#mg" x="1580.2" y="151.6"/></g>
<g><circle cx="1589.7" cy="371.0" r="9.9" fill="#8000ff"/><circle cx="1584.7" cy="371.5" r="9.9" fill="#8000ff"/><use href="#mp" x="1575.3" y="372.9"/><use href="#mp" x="1559.9" y="375.4"/><use href="#mp" x="1545.4" y="377.5"/><use href="#mp" x="1531.7" y="380.5"/><use href="#mp" x="1515.4" y="381.7"/><use href="#mp" x="1500.8" y="382.5"/><use href="#mp" x="1488.3" y="385.1"/><use href="#mp" x="1474.0" y="386.5"/><use href="#mp" x="1456.9" y="387.8"/><use href="#mp" x="1443.9" y="390.3"/><use href="#mp" x="1430.3" y="390.5"/><use href="#mp" x="1414.1" y="390.8"/><use href="#mp" x="1400.2" y="392.2"/><use href="#mp" x="1384.2" y="393.3"/><use href="#mp" x="1372.8" y="395.9"/><use href="#mp" x="1362.2" y="397.8"/><use href="#mp" x="1351.1" y="399.1"/><use href="#mp" x="1340.3" y="398.8"/><use href="#mp" x="1331.0" y="400.8"/><use href="#mp" x="1320.1" y="402.4"/><use href="#mp" x="1310.9" y="404.7"/><use href="#mp" x="1305.4" y="406.0"/><use href="#mp" x="1298.2" y="405.6"/><use href="#mp" x="1290.6" y="408.0"/><use href="#mp" x="1282.8" y="409.6"/><use href="#mp" x="1274.9" y="410.8"/><use href="#mp" x="1268.9" y="410.1"/><use href="#mp" x="1259.6" y="412.6"/><use href="#mp" x="1254.6" y="412.7"/><use href="#mp" x="1245.8" y="415.3"/><use href="#mp" x="1238.1" y="417.0"/><use href="#mp" x="1231.7" y="416.9"/><use href="#mp" x="1224.1" y="419.5"/><use href="#mp" x="1217.0" y="421.3"/><use href="#mp" x="1208.9" y="423.3"/><use href="#mp" x="1202.2" y="424.7"/><use href="#mp" x="1195.6" y="426.1"/><use href="#mp" x="1187.6" y="428.7"/><use href="#mp" x="1181.9" y="430.6"/><use href="#mp" x="1173.5" y="431.6"/><use href="#mp" x="1164.8" y="435.1"/><use href="#mp" x="1159.3" y="437.0"/><use href="#mp" x="1150.9" y="439.0"/><use href="#mp" x="1145.4" y="442.0"/><use href="#mp" x="1137.1" y="443.8"/><use href="#mp" x="1129.3" y="448.0"/><use href="#mp" x="1121.8" y="451.0"/><use href="#mp" x="1115.2" y="455.0"/><use href="#mp" x="1108.4" y="457.6"/><use href="#mp" x="1098.9" y="461.6"/><use href="#mp" x="1092.8" y="466.5"/><use href="#mp" x="1086.6" y="471.5"/><use href="#mp" x="1077.1" y="476.1"/><use href="#mp" x="1071.9" y="481.4"/><use href="#mp" x="1064.0" y="486.1"/><use href="#mp" x="1057.4" y="494.7"/><use href="#mp" x="1049.7" y="502.6"/><use href="#mp" x="1041.4" y="508.1"/><use href="#mp" x="1034.7" y="516.8"/><use href="#mp" x="1026.4" y="525.3"/><use href="#mp" x="1021.1" y="534.3"/><use href="#mp" x="1012.9" y="545.5"/><use href="#mp" x="1005.2" y="557.4"/><use href="#mp" x="997.3" y="574.9"/><use href="#mp" x="991.5" y="592.7"/><use href="#mp" x="982.2" y="614.0"/><use href="#mp" x="976.9" y="634.5"/><use href="#mp" x="969.0" y="656.6"/><use href="#mp" x="962.6" y="677.1"/><use href="#mp" x="954.1" y="698.0"/><use href="#mp" x="946.0" y="715.3"/><use href="#mp" x="938.7" y="732.2"/><use href="#mp" x="931.9" y="746.4"/><use href="#mp" x="924.7" y="759.4"/><use href="#mp" x="916.7" y="769.0"/><use href="#mp" x="911.7" y="777.6"/><use href="#mp" x="901.9" y="784.6"/><use href="#mp" x="896.5" y="789.2"/><use href="#mp" x="888.7" y="794.4"/><use href="#mp" x="881.2" y="798.3"/><use href="#mp" x="872.5" y="804.5"/><use href="#mp" x="867.5" y="807.4"/><use href="#mp" x="859.4" y="810.6"/><use href="#mp" x="852.7" y="814.3"/><use href="#mp" x="845.9" y="818.0"/><use href="#mp" x="838.2" y="821.2"/><use href="#mp" x="829.3" y="821.9"/><use href="#mp" x="821.8" y="824.5"/><use href="#mp" x="814.2" y="826.5"/><use href="#mp" x="808.2" y="830.2"/><use href="#mp" x="800.7" y="832.4"/><use href="#mp" x="794.6" y="832.6"/><use href="#mp" x="786.4" y="835.2"/><use href="#mp" x="777.8" y="838.2"/><use href="#mp" x="770.9" y="839.2"/><use href="#mp" x="764.6" y="841.7"/><use href="#mp" x="757.4" y="842.2"/><use href="#mp" x="749.5" y="843.3"/><use href="#mp" x="743.6" y="846.4"/><use href="#mp" x="734.2" y="845.8"/><use href="#mp" x="727.0" y="847.7"/><use href="#mp" x="721.5" y="849.9"/><use href="#mp" x="714.1" y="849.3"/><use href="#mp" x="706.6" y="851.7"/><use href="#mp" x="698.9" y="853.3"/><use href="#mp" x="690.0" y="852.7"/><use href="#mp" x="684.6" y="855.3"/><use href="#mp" x="677.1" y="855.1"/><use href="#mp" x="669.5" y="857.0"/><use href="#mp" x="660.9" y="857.2"/><use href="#mp" x="654.0" y="857.8"/><use href="#mp" x="643.7" y="859.2"/><use href="#mp" x="632.0" y="860.4"/><use href="#mp" x="622.3" y="861.3"/><use href="#mp" x="611.4" y="862.8"/><use href="#mp" x="598.6" y="865.2"/><use href="#mp" x="588.1" y="866.2"/><use href="#mp" x="575.3" y="867.1"/><use href="#mp" x="558.7" y="867.1"/><use href="#mp" x="544.0" y="869.1"/><use href="#mp" x="531.4" y="869.6"/><use href="#mp" x="515.7" y="870.2"/><use href="#mp" x="502.2" y="871.8"/><use href="#mp" x="487.0" y="872.5"/><use href="#mp" x="471.3" y="873.8"/><use href="#mp" x="458.0" y="876.4"/><use href="#mp" x="441.8" y="878.6"/><use href="#mp" x="427.6" y="879.4"/><use href="#mp" x="412.6" y="880.9"/><use href="#mp" x="399.9" y="882.9"/><use href="#mp" x="393.9" y="883.8"/><use href="#mp" x="408.9" y="882.7"/><use href="#mp" x="423.0" y="881.0"/><use href="#mp" x="437.4" y="879.1"/><use href="#mp" x="453.7" y="876.1"/><use href="#mp" x="467.8" y="874.7"/><use href="#mp" x="481.8" y="873.1"/><use href="#mp" x="496.7" y="873.2"/><use href="#mp" x="513.1" y="871.8"/><use href="#mp" x="525.2" y="869.2"/><use href="#mp" x="542.0" y="867.6"/><use href="#mp" x="556.2" y="867.1"/><use href="#mp" x="571.5" y="865.6"/><use href="#mp" x="585.6" y="865.3"/><use href="#mp" x="598.4" y="863.4"/><use href="#mp" x="611.3" y="863.5"/><use href="#mp" x="620.4" y="862.2"/><use href="#mp" x="633.4" y="860.6"/><use href="#mp" x="643.4" y="859.2"/><use href="#mp" x="653.3" y="859.1"/><use href="#mp" x="665.7" y="856.5"/><use href="#mp" x="671.2" y="855.3"/><use href="#mp" x="680.0" y="855.0"/><use href="#mp" x="686.4" y="853.4"/><use href="#mp" x="694.7" y="853.3"/><use href="#mp" x="702.5" y="852.1"/><use href="#mp" x="708.1" y="850.0"/><use href="#mp" x="716.9" y="849.6"/><use href="#mp" x="724.2" y="847.8"/><use href="#mp" x="731.7" y="847.1"/><use href="#mp" x="739.1" y="846.9"/><use href="#mp" x="745.5" y="843.9"/><use href="#mp" x="753.9" y="843.3"/><use href="#mp" x="761.1" y="841.3"/><use href="#mp" x="766.5" y="840.7"/><use href="#mp" x="774.3" y="837.6"/><use href="#mp" x="781.6" y="836.6"/><use href="#mp" x="787.9" y="834.6"/><use href="#mp" x="796.5" y="832.7"/><use href="#mp" x="802.9" y="831.1"/><use href="#mp" x="812.1" y="829.3"/><use href="#mp" x="818.0" y="826.9"/><use href="#mp" x="825.5" y="824.7"/><use href="#mp" x="831.9" y="822.5"/><use href="#mp" x="841.7" y="819.1"/><use href="#mp" x="847.8" y="816.2"/><use href="#mp" x="855.2" y="812.1"/><use href="#mp" x="863.7" y="809.0"/><use href="#mp" x="868.8" y="805.0"/><use href="#mp" x="876.3" y="802.5"/><use href="#mp" x="883.0" y="796.8"/><use href="#mp" x="892.1" y="792.7"/><use href="#mp" x="897.5" y="788.9"/><use href="#mp" x="906.4" y="783.9"/><use href="#mp" x="914.1" y="777.7"/><use href="#mp" x="921.8" y="772.9"/><use href="#mp" x="926.8" y="764.1"/><use href="#mp" x="935.4" y="756.9"/><use href="#mp" x="942.1" y="748.9"/><use href="#mp" x="949.7" y="741.8"/><use href="#mp" x="957.6" y="734.8"/><use href="#mp" x="963.6" y="724.2"/><use href="#mp" x="972.6" y="713.2"/><use href="#mp" x="980.1" y="702.2"/><use href="#mp" x="986.2" y="685.1"/><use href="#mp" x="994.8" y="667.0"/><use href="#mp" x="1000.9" y="647.4"/><use href="#mp" x="1009.2" y="624.5"/><use href="#mp" x="1015.0" y="603.7"/><use href="#mp" x="1022.9" y="583.8"/><use href="#mp" x="1031.2" y="562.7"/><use href="#mp" x="1038.6" y="544.3"/><use href="#mp" x="1043.7" y="527.5"/><use href="#mp" x="1053.6" y="514.0"/><use href="#mp" x="1058.9" y="499.8"/><use href="#mp" x="1067.3" y="489.2"/><use href="#mp" x="1074.3" y="480.7"/><use href="#mp" x="1081.3" y="475.1"/><use href="#mp" x="1087.5" y="469.0"/><use href="#mp" x="1097.4" y="465.5"/><use href="#mp" x="1104.6" y="460.8"/><use href="#mp" x="1111.6" y="457.2"/><use href="#mp" x="1119.1" y="451.7"/><use href="#mp" x="1125.7" y="448.7"/><use href="#mp" x="1133.1" y="445.4"/><use href="#mp" x="1140.1" y="443.8"/><use href="#mp" x="1147.6" y="439.7"/><use href="#mp" x="1154.6" y="437.6"/><use href="#mp" x="1163.1" y="435.0"/><use href="#mp" x="1168.6" y="433.5"/><use href="#mp" x="1175.4" y="431.4"/><use href="#mp" x="1185.0" y="429.3"/><use href="#mp" x="1190.4" y="427.3"/><use href="#mp" x="1198.5" y="424.8"/><use href="#mp" x="1204.6" y="422.9"/><use href="#mp" x="1212.4" y="421.7"/><use href="#mp" x="1219.7" y="419.7"/><use href="#mp" x="1226.4" y="418.7"/><use href="#mp" x="1235.9" y="417.3"/><use href="#mp" x="1242.4" y="416.0"/><use href="#mp" x="1248.7" y="414.7"/><use href="#mp" x="1256.7" y="413.1"/><use href="#mp" x="1264.4" y="411.7"/><use href="#mp" x="1270.9" y="410.0"/><use href="#mp" x="1278.0" y="409.4"/><use href="#mp" x="1285.7" y="408.4"/><use href="#mp" x="1292.0" y="406.8"/><use href="#mp" x="1301.7" y="405.4"/><use href="#mp" x="1308.1" y="404.8"/><use href="#mp" x="1314.7" y="404.6"/><use href="#mp" x="1322.0" y="403.1"/><use href="#mp" x="1328.9" y="400.6"/><use href="#mp" x="1341.9" y="399.7"/><use href="#mp" x="1350.6" y="398.2"/><use href="#mp" x="1362.6" y="397.4"/><use href="#mp" x="1372.6" y="395.1"/><use href="#mp" x="1385.9" y="394.8"/><use href="#mp" x="1394.6" y="392.9"/><use href="#mp" x="1409.8" y="392.3"/><use href="#mp" x="1425.2" y="391.6"/><use href="#mp" x="1440.3" y="389.8"/><use href="#mp" x="1454.7" y="388.9"/><use href="#mp" x="1469.4" y="386.9"/><use href="#mp" x="1484.1" y="385.9"/><use href="#mp" x="1499.0" y="383.0"/><use href="#mp" x="1513.5" y="381.0"/><use href="#mp" x="1527.9" y="380.4"/><use href="#mp" x="1541.7" y="379.2"/><use href="#mp" x="1556.5" y="376.0"/><use href="#mp" x="1571.7" y="374.7"/><use href="#mp" x="1585.8" y="371.5"/><use href="#mp" x="1577.9" y="372.8"/></g></g>
<g id="axes"><rect x="189.0" y="40.0" width="1607.0" height="1177.0" fill="none" stroke="#000" stroke-width="6.2"/><line x1="992.6" y1="40.0" x2="992.6" y2="1217.0" stroke="#000" stroke-width="6.6"/><line x1="189.0" y1="629.0" x2="1796.0" y2="629.0" stroke="#000" stroke-width="6.6"/><path d="M189.0 40.0H157.0M189.0 335.0H157.0M189.0 629.0H157.0M189.0 922.2H157.0M189.0 1217.0H157.0M189.0 187.6H172.7M189.0 481.9H172.7M189.0 776.1H172.7M189.0 1070.4H172.7M262.1 1217.0V1246.5M627.4 1217.0V1246.5M992.6 1217.0V1246.5M1357.8 1217.0V1246.5M1723.1 1217.0V1246.5M444.7 1217.0V1231.8M810.0 1217.0V1231.8M1175.2 1217.0V1231.8M1540.5 1217.0V1231.8" stroke="#000" stroke-width="6.2" stroke-linecap="butt" fill="none"/></g>
</svg></body></html>
